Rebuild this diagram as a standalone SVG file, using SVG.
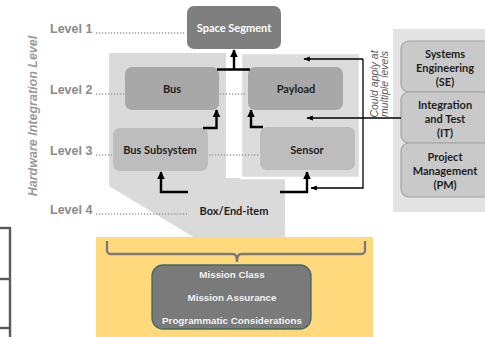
<svg xmlns="http://www.w3.org/2000/svg" width="485" height="337" viewBox="0 0 485 337">
  <defs>
    <marker id="arrowHead" viewBox="0 0 10 10" refX="9" refY="5" markerWidth="3.2" markerHeight="3.2" orient="auto" markerUnits="strokeWidth">
      <path d="M0,0 L10,5 L0,10 z" fill="#000"/>
    </marker>
    <marker id="arrowThin" viewBox="0 0 10 10" refX="9" refY="5" markerWidth="5" markerHeight="5" orient="auto" markerUnits="strokeWidth">
      <path d="M0,1 L10,5 L0,9 z" fill="#000"/>
    </marker>
    <style>
      .lvl { font-family: "Liberation Sans", Arial, sans-serif; font-weight: bold; font-size: 12.5px; fill: #8a8a8a; }
      .dots { stroke: #9a9a9a; stroke-width: 1.3; stroke-dasharray: 1.2 1.8; fill: none; }
      .box { font-family: Lato, "Liberation Sans", sans-serif; font-weight: bold; font-size: 11px; fill: #1e1e1e; text-anchor: middle; }
      .boxw { font-family: Lato, "Liberation Sans", sans-serif; font-weight: bold; font-size: 11px; fill: #ffffff; text-anchor: middle; }
      .mis { font-family: "Liberation Sans", Arial, sans-serif; font-weight: bold; font-size: 9.8px; fill: #f2f2f2; text-anchor: middle; }
      .conn { stroke: #000; stroke-width: 2.4; fill: none; }
      .thin { stroke: #000; stroke-width: 1.3; fill: none; }
      .side { fill: #c9c9c9; stroke: #a3a3a3; stroke-width: 1.2; }
      .note { font-family: "Liberation Sans", Arial, sans-serif; font-style: italic; font-size: 10.5px; fill: #555; text-anchor: middle; }
    </style>
  </defs>

  <rect width="485" height="337" fill="#ffffff"/>

  <!-- background panels -->
  <g id="panels">
    <polygon points="109,53 226,53 226,178 285,178 285,238 195,238 109,186" fill="#dadada"/>
    <rect x="241" y="53" width="119" height="125" fill="#dcdcdc" stroke="#ffffff" stroke-width="2.5"/>
    <rect x="393" y="29" width="92" height="183" fill="#e3e3e3"/>
    <rect x="96" y="237" width="277" height="100" fill="#ffd97c"/>
  </g>

  <!-- table edge at left -->
  <g id="table-edge" stroke="#5a5a5a" stroke-width="2.4" fill="none">
    <line x1="0" y1="228" x2="11" y2="228"/>
    <line x1="0" y1="279" x2="11" y2="279"/>
    <line x1="0" y1="328" x2="11" y2="328"/>
    <line x1="10" y1="227" x2="10" y2="337"/>
  </g>

  <!-- axis title -->
  <text transform="translate(37,116) rotate(-90)" text-anchor="middle" font-family="Liberation Sans, Arial, sans-serif" font-style="italic" font-weight="bold" font-size="12.5" fill="#9a9a9a">Hardware Integration Level</text>

  <!-- level labels and leader dots -->
  <g id="levels">
    <text class="lvl" x="50" y="33">Level 1</text>
    <text class="lvl" x="50" y="94">Level 2</text>
    <text class="lvl" x="50" y="155">Level 3</text>
    <text class="lvl" x="50" y="214">Level 4</text>
    <line class="dots" x1="96" y1="33" x2="186" y2="33"/>
    <line class="dots" x1="96" y1="94" x2="124" y2="94"/>
    <line class="dots" x1="220" y1="94" x2="247" y2="94"/>
    <line class="dots" x1="96" y1="155" x2="112" y2="155"/>
    <line class="dots" x1="209" y1="155" x2="259" y2="155"/>
    <line class="dots" x1="96" y1="214" x2="187" y2="214"/>
  </g>

  <g id="space-segment">
    <rect x="187" y="6" width="94" height="43" rx="7" fill="#7f7f7f"/>
    <text class="boxw" x="234" y="32">Space Segment</text>
  </g>
  <g id="bus">
    <rect x="125" y="67" width="94" height="43" rx="7" fill="#a8a8a8"/>
    <text class="box" x="172" y="93">Bus</text>
  </g>
  <g id="payload">
    <rect x="248" y="67" width="95" height="43" rx="7" fill="#a8a8a8"/>
    <text class="box" x="296" y="93">Payload</text>
  </g>
  <g id="bus-subsystem">
    <rect x="113" y="128" width="95" height="43" rx="7" fill="#bdbdbd"/>
    <text class="box" x="160" y="154">Bus Subsystem</text>
  </g>
  <g id="sensor">
    <rect x="260" y="127" width="95" height="43" rx="7" fill="#bdbdbd"/>
    <text class="box" x="307" y="154">Sensor</text>
  </g>
  <g id="box-end-item">
    <text class="box" x="234" y="215">Box/End-item</text>
  </g>

  <g id="systems-engineering">
    <rect class="side" x="401" y="41" width="92" height="51" rx="8"/>
    <text class="box" x="445" y="58">Systems</text>
    <text class="box" x="445" y="72">Engineering</text>
    <text class="box" x="445" y="86">(SE)</text>
  </g>
  <g id="integration-test">
    <rect class="side" x="401" y="92" width="92" height="51" rx="8"/>
    <text class="box" x="445" y="109">Integration</text>
    <text class="box" x="445" y="123">and Test</text>
    <text class="box" x="445" y="137">(IT)</text>
  </g>
  <g id="project-management">
    <rect class="side" x="401" y="143" width="92" height="54" rx="8"/>
    <text class="box" x="445" y="161">Project</text>
    <text class="box" x="445" y="175">Management</text>
    <text class="box" x="445" y="189">(PM)</text>
  </g>

  <g id="mission">
    <rect x="152" y="265" width="159" height="64" rx="11" fill="#7a7a7a" stroke="#3d6b66" stroke-width="1.3"/>
    <text class="mis" x="232" y="278">Mission Class</text>
    <text class="mis" x="232" y="301">Mission Assurance</text>
    <text class="mis" x="232" y="324">Programmatic Considerations</text>
  </g>

  <!-- brace grouping all levels -->
  <path id="brace" d="M107,241 L107,250 Q107,254 111,254 L233,254 Q237,254 237,262 Q237,254 241,254 L361,254 Q365,254 365,250 L365,241" fill="none" stroke="#7a7a7a" stroke-width="2.3"/>

  <text class="note" transform="translate(378,84) rotate(-90)">Could apply at</text>
  <text class="note" transform="translate(388,84) rotate(-90)">multiple levels</text>

  <g id="connectors">
    <line class="conn" x1="217" y1="69.5" x2="250" y2="69.5"/>
    <line class="conn" x1="234" y1="69.5" x2="234" y2="50" marker-end="url(#arrowHead)"/>
    <polyline class="conn" points="203,128 216.5,128 216.5,110" marker-end="url(#arrowHead)"/>
    <polyline class="conn" points="188,192 161,192 161,172" marker-end="url(#arrowHead)"/>
    <polyline class="conn" points="263,127 251,127 251,110" marker-end="url(#arrowHead)"/>
    <polyline class="conn" points="280,192 307,192 307,172" marker-end="url(#arrowHead)"/>
    <polyline class="thin" points="363,59 363,188 311,188" marker-end="url(#arrowThin)"/>
    <line class="thin" x1="363" y1="59" x2="304" y2="59" marker-end="url(#arrowThin)"/>
    <line class="thin" x1="401" y1="118" x2="307" y2="118" marker-end="url(#arrowThin)"/>
  </g>
</svg>
